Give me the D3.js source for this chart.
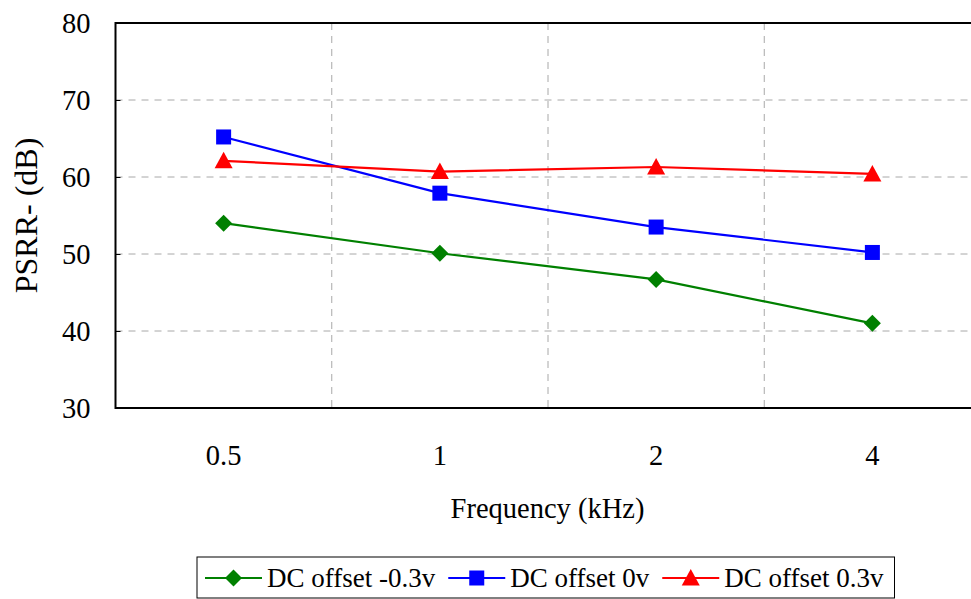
<!DOCTYPE html>
<html>
<head>
<meta charset="utf-8">
<script src="https://cdn.jsdelivr.net/npm/d3@7"></script>
<style>
  body { margin: 0; background: #fff; }
  .chart text { font-family: "Liberation Serif", "Times New Roman", Times, serif; }
</style>
</head>
<body>
<div class="chart"></div>
<script>
const frequencies = ["0.5", "1", "2", "4"];
const offsetNeg = [54.0, 50.1, 46.7, 41.0];
const offsetZero = [65.2, 57.9, 53.5, 50.2];
const offsetPos = [62.1, 60.7, 61.3, 60.4];
const yTicks = [30, 40, 50, 60, 70, 80];

const series = [
  { name: "DC offset -0.3v", values: offsetNeg, color: "#008000", marker: "diamond" },
  { name: "DC offset 0v", values: offsetZero, color: "#0000ff", marker: "square" },
  { name: "DC offset 0.3v", values: offsetPos, color: "#ff0000", marker: "triangle" },
];

const serif = "Liberation Serif";
const margin = { top: 23, left: 115.5 };
const width = 865, height = 385;

const svg = d3
  .select(".chart")
  .append("svg")
  .attr("width", 971)
  .attr("height", 599);

const g = svg.append("g").attr("transform", `translate(${margin.left},${margin.top})`);

const xScale = d3.scaleBand().domain(frequencies).range([0, width]);
const yScale = d3.scaleLinear().domain([30, 80]).range([height, 0]);
const cx = (d) => xScale(d) + xScale.bandwidth() / 2;

// grid
g.append("g")
  .selectAll("line")
  .data(yTicks.slice(1, -1))
  .enter()
  .append("line")
  .attr("x1", 0)
  .attr("x2", width)
  .attr("y1", (d) => yScale(d))
  .attr("y2", (d) => yScale(d))
  .attr("stroke", "#a8a8a8")
  .attr("stroke-width", 1)
  .attr("stroke-dasharray", "7,6");

g.append("g")
  .selectAll("line")
  .data(frequencies.slice(1))
  .enter()
  .append("line")
  .attr("x1", (d) => xScale(d))
  .attr("x2", (d) => xScale(d))
  .attr("y1", 0)
  .attr("y2", height)
  .attr("stroke", "#a8a8a8")
  .attr("stroke-width", 1)
  .attr("stroke-dasharray", "7,6");

// y axis
const yAxis = d3.axisLeft(yScale).tickValues(yTicks).tickSize(-5).tickPadding(25);
const ya = g.append("g").call(yAxis).attr("font-family", serif).attr("font-size", null);
ya.select(".domain").remove();
ya.selectAll("line").attr("stroke", "#000").attr("stroke-width", 1);
ya.selectAll("text")
  .attr("font-family", serif)
  .attr("font-size", 28.5)
  .attr("fill", "#000");

// x axis labels
g.append("g")
  .selectAll("text")
  .data(frequencies)
  .enter()
  .append("text")
  .attr("x", cx)
  .attr("y", height + 57)
  .attr("text-anchor", "middle")
  .attr("font-family", serif)
  .attr("font-size", 28.5)
  .text((d) => d);

// frame
g.append("rect")
  .attr("width", width)
  .attr("height", height)
  .attr("fill", "none")
  .attr("stroke", "#000")
  .attr("stroke-width", 2);

// axis titles
svg
  .append("text")
  .attr("x", margin.left + 432)
  .attr("y", 518)
  .attr("text-anchor", "middle")
  .attr("font-family", serif)
  .attr("font-size", 28.5)
  .text("Frequency (kHz)");

svg
  .append("text")
  .attr("transform", "translate(37,215.5) rotate(-90)")
  .attr("text-anchor", "middle")
  .attr("font-family", serif)
  .attr("font-size", 32)
  .text("PSRR- (dB)");

function drawMarker(sel, type, color) {
  if (type === "square") {
    sel.append("rect").attr("x", -7.5).attr("y", -7.5).attr("width", 15).attr("height", 15).attr("fill", color);
  } else if (type === "diamond") {
    sel.append("path").attr("d", "M0,-8.5L8.5,0L0,8.5L-8.5,0Z").attr("fill", color);
  } else {
    sel.append("path").attr("d", "M0,-9L9,7.5L-9,7.5Z").attr("fill", color);
  }
}

const line = d3
  .line()
  .x((d, i) => cx(frequencies[i]))
  .y((d) => yScale(d));

series.forEach((s) => {
  g.append("path")
    .attr("d", line(s.values))
    .attr("fill", "none")
    .attr("stroke", s.color)
    .attr("stroke-width", 2.2);
  s.values.forEach((v, i) => {
    const m = g.append("g").attr("transform", `translate(${cx(frequencies[i])},${yScale(v)})`);
    drawMarker(m, s.marker, s.color);
  });
});

// legend
const legend = svg.append("g");
const legendBox = legend.append("rect")
  .attr("x", 197)
  .attr("y", 557)
  .attr("height", 41)
  .attr("fill", "#fff")
  .attr("stroke", "#000")
  .attr("stroke-width", 1);

let lx = 205;
const ly = 578;
series.forEach((s) => {
  legend.append("line")
    .attr("x1", lx).attr("x2", lx + 57)
    .attr("y1", ly).attr("y2", ly)
    .attr("stroke", s.color).attr("stroke-width", 2.2);
  drawMarker(legend.append("g").attr("transform", `translate(${lx + 28.5},${ly})`), s.marker, s.color);
  const t = legend.append("text")
    .attr("x", lx + 62)
    .attr("y", ly + 9)
    .attr("font-family", serif)
    .attr("font-size", 27)
    .text(s.name);
  lx += 62 + t.node().getComputedTextLength() + 13;
});
legendBox.attr("width", lx - 197 - 2);
</script>
</body>
</html>
